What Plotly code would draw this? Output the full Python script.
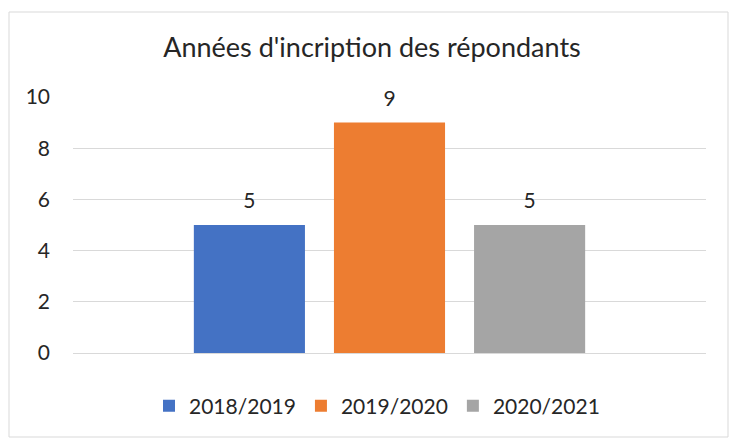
import plotly.graph_objects as go

categories = ["Total"]
series_names = ["2018/2019", "2019/2020", "2020/2021"]
series_values = [[5], [9], [5]]
colors = ["#4472C4", "#ED7D31", "#A5A5A5"]
y_ticks = [0, 2, 4, 6, 8, 10]

FONT = "Lato, sans-serif"
TXT = "#262626"

fig = go.Figure()
for name, vals, c in zip(series_names, series_values, colors):
    fig.add_trace(go.Bar(
        x=categories, y=vals, name=name, marker=dict(color=c, line=dict(width=0)),
        text=[f"<span style='font-size:21px'>{v}</span><br> " for v in vals],
        textposition="outside", cliponaxis=False,
        textfont=dict(family=FONT, size=9, color=TXT),
        hoverinfo="name+y",
    ))

L, R, T, B = 73, 31, 97, 86
W, H = 737, 439
pw, ph = W - L - R, H - T - B

def px(x):
    return (x - L) / pw

def py(y):
    return (H - B - y) / ph

fig.update_layout(
    width=W, height=H,
    margin=dict(l=L, r=R, t=T, b=B, pad=0),
    paper_bgcolor="white", plot_bgcolor="white",
    barmode="group", bargap=0.336, bargroupgap=0.207,
    title=dict(text="Années d'incription des répondants", x=372 / W, xanchor="center",
               y=1 - 48 / H, yanchor="middle",
               font=dict(family=FONT, size=27, color=TXT)),
    font=dict(family=FONT, size=21, color=TXT),
    xaxis=dict(showticklabels=False, showgrid=False, zeroline=False, showline=False),
    yaxis=dict(range=[0, 10], tickvals=y_ticks, showgrid=True, gridcolor="#D9D9D9",
               gridwidth=1, zeroline=True, zerolinecolor="#D9D9D9", zerolinewidth=1,
               showline=False, ticks="", ticklabelstandoff=22,
               tickfont=dict(family=FONT, size=21, color=TXT)),
    showlegend=True,
    legend=dict(orientation="h", x=px(377), xanchor="center", y=py(406), yanchor="middle",
                font=dict(family=FONT, size=21, color=TXT),
                traceorder="normal", itemwidth=30),
    shapes=[dict(type="rect", xref="paper", yref="paper",
                 x0=px(9), x1=px(728), y0=py(437), y1=py(12),
                 line=dict(color="#D9D9D9", width=1), fillcolor="rgba(0,0,0,0)", layer="below")],
)

fig.write_html("out.html", config={"displayModeBar": False},
               post_script="document.body.style.margin='0';")
